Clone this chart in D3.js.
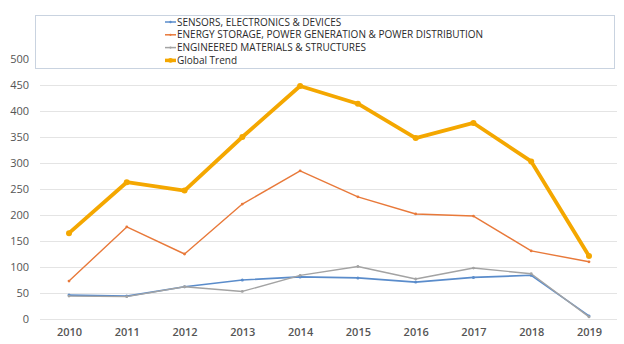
<!DOCTYPE html>
<html lang="en">
<head>
<meta charset="utf-8">
<script src="https://cdn.jsdelivr.net/npm/d3@7"></script>
<style>
  body { margin: 0; background: #fff; }
  text { font-family: "Open Sans", "Liberation Sans", sans-serif; }
</style>
</head>
<body>
<div id="my_dataviz"></div>
<script>
// years and series
var years = ["2010", "2011", "2012", "2013", "2014", "2015", "2016", "2017", "2018", "2019"];
var sensors = [46, 44, 62, 75, 81, 79, 71, 80, 84, 6];
var energy = [73, 177, 125, 221, 285, 235, 202, 198, 131, 110];
var materials = [44, 43, 62, 53, 84, 101, 77, 98, 87, 4];
var globalTrend = [165, 263, 247, 350, 448, 414, 348, 377, 303, 121];
var yTicks = [0, 50, 100, 150, 200, 250, 300, 350, 400, 450, 500];

var series = [
    {name: "SENSORS, ELECTRONICS & DEVICES", values: sensors, color: "#5a8ccb", w: 1.6, r: 1.5},
    {name: "ENERGY STORAGE, POWER GENERATION & POWER DISTRIBUTION", values: energy, color: "#e8793a", w: 1.4, r: 1.4},
    {name: "ENGINEERED MATERIALS & STRUCTURES", values: materials, color: "#a3a3a3", w: 1.4, r: 1.4},
    {name: "Global Trend", values: globalTrend, color: "#f4a700", w: 3.8, r: 3}
];

var width = 624, height = 344;

var svg = d3.select("#my_dataviz")
    .append("svg")
    .attr("width", width)
    .attr("height", height);

var x = d3.scalePoint()
    .domain(years)
    .range([69, 589]);

var y = d3.scaleLinear()
    .domain([0, 500])
    .range([319, 59]);

// gridlines
svg.append("g")
    .selectAll("line")
    .data(yTicks.filter(function (d) { return d < 500; }))
    .enter()
    .append("line")
    .attr("x1", 40)
    .attr("x2", 617)
    .attr("y1", function (d) { return y(d) + 0.5; })
    .attr("y2", function (d) { return y(d) + 0.5; })
    .style("stroke", "#e4e4e4")
    .style("stroke-width", 1);

// y axis labels
var yAxis = svg.append("g")
    .attr("transform", "translate(29,0)")
    .call(d3.axisLeft(y).tickValues(yTicks).tickSize(0).tickPadding(0));
yAxis.select(".domain").remove();
yAxis.selectAll("text")
    .style("font-size", "11px")
    .style("fill", "#555");

// x axis labels
var xAxis = svg.append("g")
    .attr("transform", "translate(0,328)")
    .call(d3.axisBottom(x).tickSize(0).tickPadding(0));
xAxis.select(".domain").remove();
xAxis.selectAll("text")
    .style("font-size", "11px")
    .style("font-weight", "600")
    .style("fill", "#555");

// lines
var line = d3.line()
    .x(function (d, i) { return x(years[i]); })
    .y(function (d) { return y(d); });

series.forEach(function (s) {
    svg.append("path")
        .datum(s.values)
        .attr("d", line)
        .style("fill", "none")
        .style("stroke", s.color)
        .style("stroke-width", s.w)
        .style("stroke-linejoin", "round");

    svg.append("g")
        .selectAll("circle")
        .data(s.values)
        .enter()
        .append("circle")
        .attr("cx", function (d, i) { return x(years[i]); })
        .attr("cy", function (d) { return y(d); })
        .attr("r", s.r)
        .style("fill", s.color);
});

// legend box
svg.append("rect")
    .attr("x", 35.5)
    .attr("y", 15.5)
    .attr("width", 579)
    .attr("height", 53)
    .style("fill", "none")
    .style("stroke", "#c9d3e0")
    .style("stroke-width", 1);

var legend = svg.selectAll(".legend")
    .data(series)
    .enter()
    .append("g")
    .attr("class", "legend")
    .attr("transform", function (d, i) { return "translate(165," + (22 + i * 12.8) + ")"; });

legend.append("line")
    .attr("x1", 0)
    .attr("x2", 11)
    .style("stroke", function (d) { return d.color; })
    .style("stroke-width", function (d) { return d.w > 2 ? 3.5 : 1.5; });

legend.append("circle")
    .attr("cx", 5.5)
    .attr("r", function (d) { return d.r * 0.8; })
    .style("fill", function (d) { return d.color; });

legend.append("text")
    .attr("x", 12)
    .attr("dy", "0.35em")
    .style("font-size", "10px")
    .style("fill", "#2a2a2a")
    .text(function (d) { return d.name; });
</script>
</body>
</html>
